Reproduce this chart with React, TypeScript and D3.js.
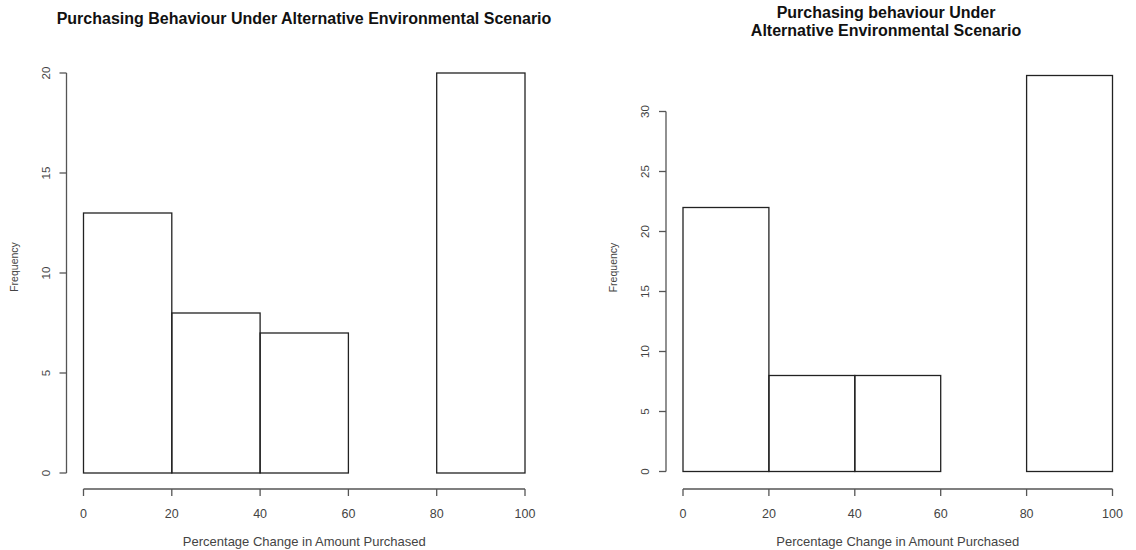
import * as d3 from 'd3';
import React, { useEffect, useRef } from 'react';

// bin edges shared by both histograms
const binEdges = [0, 20, 40, 60, 80, 100];
const xTicks = [0, 20, 40, 60, 80, 100];

// left panel
const leftTitle = ["Purchasing Behaviour Under Alternative Environmental Scenario"];
const leftCounts = [13, 8, 7, 0, 20];
const leftYTicks = [0, 5, 10, 15, 20];

// right panel
const rightTitle = ["Purchasing behaviour Under", "Alternative Environmental Scenario"];
const rightCounts = [22, 8, 8, 0, 33];
const rightYTicks = [0, 5, 10, 15, 20, 25, 30];

const xLabel = "Percentage Change in Amount Purchased";
const yLabel = "Frequency";

interface Panel {
  title: string[];
  counts: number[];
  yTicks: number[];
  x0: number; x1: number;   // pixel range for 0..100
  y0: number; y1: number;   // pixel range for first..last y tick
  titleX: number;
  titleY: number;
}

const App: React.FC = () => {
  const ref = useRef<SVGSVGElement>(null);

  useEffect(() => {
    if (!ref.current) return;
    const svg = d3.select(ref.current);
    svg.selectAll("*").remove();

    const font = "'Liberation Sans', Arial, sans-serif";
    const axisColor = "#555";
    const textColor = "#444";

    const panels: Panel[] = [
      { title: leftTitle, counts: leftCounts, yTicks: leftYTicks, x0: 83.5, x1: 525, y0: 473, y1: 73, titleX: 304, titleY: 24 },
      { title: rightTitle, counts: rightCounts, yTicks: rightYTicks, x0: 683, x1: 1112.5, y0: 471.5, y1: 111.5, titleX: 886, titleY: 18 },
    ];

    panels.forEach(p => {
      const g = svg.append("g");
      const x = d3.scaleLinear().domain([0, 100]).range([p.x0, p.x1]);
      const yMax = p.yTicks[p.yTicks.length - 1];
      const y = d3.scaleLinear().domain([0, yMax]).range([p.y0, p.y1]);
      const axisX = p.x0 - 17;
      const maxCount = d3.max(p.counts) as number;

      // title
      const t = g.append("text")
        .attr("x", p.titleX)
        .attr("y", p.titleY)
        .attr("text-anchor", "middle")
        .style("font", `bold 16px ${font}`)
        .attr("fill", "#111");
      p.title.forEach((line, i) => {
        t.append("tspan").attr("x", p.titleX).attr("dy", i === 0 ? 0 : 18).text(line);
      });

      // bars
      const bins = p.counts.map((c, i) => ({ lo: binEdges[i], hi: binEdges[i + 1], c }));
      g.selectAll("rect.bar")
        .data(bins)
        .enter().append("rect")
        .attr("class", "bar")
        .attr("x", d => x(d.lo))
        .attr("y", d => y(d.c))
        .attr("width", d => x(d.hi) - x(d.lo))
        .attr("height", d => y(0) - y(d.c))
        .attr("fill", "none")
        .attr("stroke", "#222")
        .attr("stroke-width", 1.3);

      // y axis
      const ya = g.append("g").attr("transform", `translate(${axisX},0)`);
      ya.append("line")
        .attr("x1", 0).attr("x2", 0)
        .attr("y1", y(0)).attr("y2", y(yMax))
        .attr("stroke", axisColor).attr("stroke-width", 1.3);
      p.yTicks.forEach(v => {
        ya.append("line")
          .attr("x1", -7).attr("x2", 0)
          .attr("y1", y(v)).attr("y2", y(v))
          .attr("stroke", axisColor).attr("stroke-width", 1.3);
        ya.append("text")
          .attr("transform", `translate(-17,${y(v)}) rotate(-90)`)
          .attr("text-anchor", "middle")
          .style("font", `11.5px ${font}`)
          .attr("fill", textColor)
          .text(v);
      });
      g.append("text")
        .attr("transform", `translate(${axisX - 49},${(y(0) + y(maxCount)) / 2 - 6}) rotate(-90)`)
        .attr("text-anchor", "middle")
        .style("font", `10.5px ${font}`)
        .attr("fill", textColor)
        .text(yLabel);

      // x axis
      const axisY = 489;
      const xa = g.append("g").attr("transform", `translate(0,${axisY})`);
      xa.append("line")
        .attr("x1", x(0)).attr("x2", x(100))
        .attr("y1", 0).attr("y2", 0)
        .attr("stroke", axisColor).attr("stroke-width", 1.3);
      xTicks.forEach(v => {
        xa.append("line")
          .attr("x1", x(v)).attr("x2", x(v))
          .attr("y1", 0).attr("y2", 7)
          .attr("stroke", axisColor).attr("stroke-width", 1.3);
        xa.append("text")
          .attr("x", x(v)).attr("y", 29)
          .attr("text-anchor", "middle")
          .style("font", `12.5px ${font}`)
          .attr("fill", textColor)
          .text(v);
      });
      g.append("text")
        .attr("x", (x(0) + x(100)) / 2)
        .attr("y", axisY + 57)
        .attr("text-anchor", "middle")
        .style("font", `13px ${font}`)
        .attr("fill", textColor)
        .text(xLabel);
    });
  }, []);

  return <svg ref={ref} width={1136} height={550} style={{ position: "absolute", left: 0, top: 0 }}></svg>;
};

export default App;
